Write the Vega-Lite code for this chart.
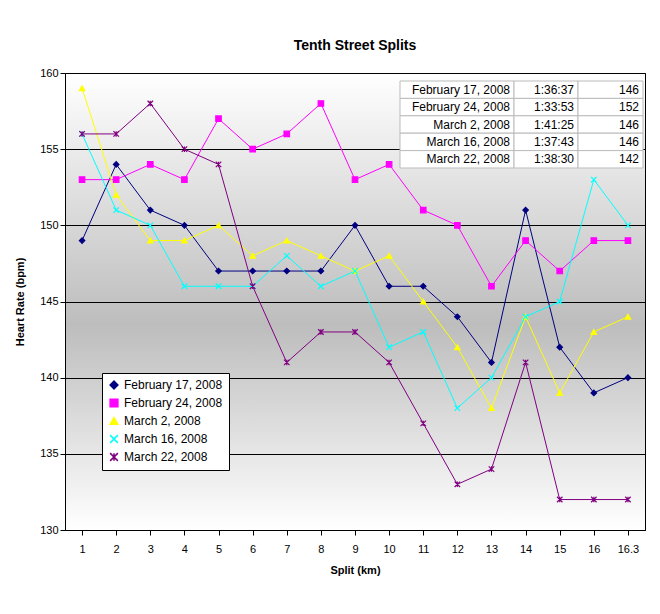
{
  "$schema": "https://vega.github.io/schema/vega-lite/v6.json",
  "width": 580,
  "height": 457,
  "autosize": "none",
  "padding": {"left": 65, "top": 73, "right": 15, "bottom": 84},
  "background": "white",
  "title": {"text": "Tenth Street Splits", "font": "Liberation Sans", "fontSize": 14, "fontWeight": "bold", "offset": 14, "color": "black"},
  "config": {
    "font": "Liberation Sans",
    "view": {"stroke": "black", "fill": {"gradient": "linear", "x1": 0, "y1": 0, "x2": 0, "y2": 1, "stops": [{"offset": 0, "color": "#ffffff"}, {"offset": 0.55, "color": "#bdbdbd"}, {"offset": 1, "color": "#ffffff"}]}},
    "axis": {"labelFont": "Liberation Sans", "labelFontSize": 11, "labelColor": "black", "titleFont": "Liberation Sans", "titleFontSize": 11, "titleColor": "black", "domainColor": "black", "tickColor": "black"}
  },
  "datasets": {
    "hr": [
      {"date":"February 17, 2008","split":"1","hr":149},{"date":"February 17, 2008","split":"2","hr":154},{"date":"February 17, 2008","split":"3","hr":151},{"date":"February 17, 2008","split":"4","hr":150},{"date":"February 17, 2008","split":"5","hr":147},{"date":"February 17, 2008","split":"6","hr":147},{"date":"February 17, 2008","split":"7","hr":147},{"date":"February 17, 2008","split":"8","hr":147},{"date":"February 17, 2008","split":"9","hr":150},{"date":"February 17, 2008","split":"10","hr":146},{"date":"February 17, 2008","split":"11","hr":146},{"date":"February 17, 2008","split":"12","hr":144},{"date":"February 17, 2008","split":"13","hr":141},{"date":"February 17, 2008","split":"14","hr":151},{"date":"February 17, 2008","split":"15","hr":142},{"date":"February 17, 2008","split":"16","hr":139},{"date":"February 17, 2008","split":"16.3","hr":140},
      {"date":"February 24, 2008","split":"1","hr":153},{"date":"February 24, 2008","split":"2","hr":153},{"date":"February 24, 2008","split":"3","hr":154},{"date":"February 24, 2008","split":"4","hr":153},{"date":"February 24, 2008","split":"5","hr":157},{"date":"February 24, 2008","split":"6","hr":155},{"date":"February 24, 2008","split":"7","hr":156},{"date":"February 24, 2008","split":"8","hr":158},{"date":"February 24, 2008","split":"9","hr":153},{"date":"February 24, 2008","split":"10","hr":154},{"date":"February 24, 2008","split":"11","hr":151},{"date":"February 24, 2008","split":"12","hr":150},{"date":"February 24, 2008","split":"13","hr":146},{"date":"February 24, 2008","split":"14","hr":149},{"date":"February 24, 2008","split":"15","hr":147},{"date":"February 24, 2008","split":"16","hr":149},{"date":"February 24, 2008","split":"16.3","hr":149},
      {"date":"March 2, 2008","split":"1","hr":159},{"date":"March 2, 2008","split":"2","hr":152},{"date":"March 2, 2008","split":"3","hr":149},{"date":"March 2, 2008","split":"4","hr":149},{"date":"March 2, 2008","split":"5","hr":150},{"date":"March 2, 2008","split":"6","hr":148},{"date":"March 2, 2008","split":"7","hr":149},{"date":"March 2, 2008","split":"8","hr":148},{"date":"March 2, 2008","split":"9","hr":147},{"date":"March 2, 2008","split":"10","hr":148},{"date":"March 2, 2008","split":"11","hr":145},{"date":"March 2, 2008","split":"12","hr":142},{"date":"March 2, 2008","split":"13","hr":138},{"date":"March 2, 2008","split":"14","hr":144},{"date":"March 2, 2008","split":"15","hr":139},{"date":"March 2, 2008","split":"16","hr":143},{"date":"March 2, 2008","split":"16.3","hr":144},
      {"date":"March 16, 2008","split":"1","hr":156},{"date":"March 16, 2008","split":"2","hr":151},{"date":"March 16, 2008","split":"3","hr":150},{"date":"March 16, 2008","split":"4","hr":146},{"date":"March 16, 2008","split":"5","hr":146},{"date":"March 16, 2008","split":"6","hr":146},{"date":"March 16, 2008","split":"7","hr":148},{"date":"March 16, 2008","split":"8","hr":146},{"date":"March 16, 2008","split":"9","hr":147},{"date":"March 16, 2008","split":"10","hr":142},{"date":"March 16, 2008","split":"11","hr":143},{"date":"March 16, 2008","split":"12","hr":138},{"date":"March 16, 2008","split":"13","hr":140},{"date":"March 16, 2008","split":"14","hr":144},{"date":"March 16, 2008","split":"15","hr":145},{"date":"March 16, 2008","split":"16","hr":153},{"date":"March 16, 2008","split":"16.3","hr":150},
      {"date":"March 22, 2008","split":"1","hr":156},{"date":"March 22, 2008","split":"2","hr":156},{"date":"March 22, 2008","split":"3","hr":158},{"date":"March 22, 2008","split":"4","hr":155},{"date":"March 22, 2008","split":"5","hr":154},{"date":"March 22, 2008","split":"6","hr":146},{"date":"March 22, 2008","split":"7","hr":141},{"date":"March 22, 2008","split":"8","hr":143},{"date":"March 22, 2008","split":"9","hr":143},{"date":"March 22, 2008","split":"10","hr":141},{"date":"March 22, 2008","split":"11","hr":137},{"date":"March 22, 2008","split":"12","hr":133},{"date":"March 22, 2008","split":"13","hr":134},{"date":"March 22, 2008","split":"14","hr":141},{"date":"March 22, 2008","split":"15","hr":132},{"date":"March 22, 2008","split":"16","hr":132},{"date":"March 22, 2008","split":"16.3","hr":132}
    ],
    "table": [
      {"date":"February 17, 2008","time":"1:36:37","avg":"146"},
      {"date":"February 24, 2008","time":"1:33:53","avg":"152"},
      {"date":"March 2, 2008","time":"1:41:25","avg":"146"},
      {"date":"March 16, 2008","time":"1:37:43","avg":"146"},
      {"date":"March 22, 2008","time":"1:38:30","avg":"142"}
    ]
  },
  "resolve": {"scale": {"x": "independent", "y": "independent"}},
  "layer": [
    {
      "data": {"name": "hr"},
      "encoding": {
        "x": {"field": "split", "type": "ordinal", "sort": ["1","2","3","4","5","6","7","8","9","10","11","12","13","14","15","16","16.3"], "title": "Split (km)", "scale": {"paddingInner": 0, "paddingOuter": 0.5}, "axis": {"labelAngle": 0, "labelPadding": 8, "titleFontWeight": "bold", "titlePadding": 10, "grid": false}},
        "y": {"field": "hr", "type": "quantitative", "title": "Heart Rate (bpm)", "scale": {"domain": [130, 160], "nice": false}, "axis": {"values": [130,135,140,145,150,155,160], "grid": true, "gridColor": "black", "gridOpacity": 1, "titleFontWeight": "bold", "titlePadding": 14}},
        "color": {"field": "date", "type": "nominal", "title": null, "sort": null,
          "scale": {"domain": ["February 17, 2008","February 24, 2008","March 2, 2008","March 16, 2008","March 22, 2008"], "range": ["#000080","#ff00ff","#ffff00","#00ffff","#800080"]},
          "legend": {"orient": "none", "legendX": 37, "legendY": 300, "fillColor": "white", "strokeColor": "black", "padding": 6, "labelFontSize": 12, "labelColor": "black", "symbolStrokeWidth": 1.5, "symbolSize": 60, "rowPadding": 4}}
      },
      "layer": [
        {"mark": {"type": "line", "strokeWidth": 1}},
        {"mark": {"type": "point", "filled": true, "size": 30, "opacity": 1, "strokeWidth": 1.2},
         "encoding": {
           "stroke": {"field": "date", "type": "nominal", "sort": null, "legend": null,
             "scale": {"domain": ["February 17, 2008","February 24, 2008","March 2, 2008","March 16, 2008","March 22, 2008"], "range": ["#000080","#ff00ff","#ffff00","#00ffff","#800080"]}},
           "shape": {"field": "date", "type": "nominal", "title": null, "sort": null,
           "scale": {"domain": ["February 17, 2008","February 24, 2008","March 2, 2008","March 16, 2008","March 22, 2008"], "range": ["diamond","square","triangle-up","M-1,-1L1,1M-1,1L1,-1","M-1,-1L1,1M-1,1L1,-1M0,-1L0,1"]}}}}
      ]
    },
    {
      "data": {"name": "table"},
      "encoding": {"y": {"field": "date", "type": "nominal", "sort": null, "axis": null, "scale": {"range": [8, 95], "paddingInner": 0, "paddingOuter": 0}}},
      "layer": [
        {"mark": {"type": "rect", "fill": "white", "stroke": "#bbbbbb", "x": 335, "x2": 449}},
        {"mark": {"type": "rect", "fill": "white", "stroke": "#bbbbbb", "x": 449, "x2": 513}},
        {"mark": {"type": "rect", "fill": "white", "stroke": "#bbbbbb", "x": 513, "x2": 578}},
        {"mark": {"type": "text", "align": "right", "x": 445, "fontSize": 12, "color": "black"}, "encoding": {"text": {"field": "date"}}},
        {"mark": {"type": "text", "align": "right", "x": 509, "fontSize": 12, "color": "black"}, "encoding": {"text": {"field": "time"}}},
        {"mark": {"type": "text", "align": "right", "x": 574, "fontSize": 12, "color": "black"}, "encoding": {"text": {"field": "avg"}}}
      ]
    }
  ]
}
